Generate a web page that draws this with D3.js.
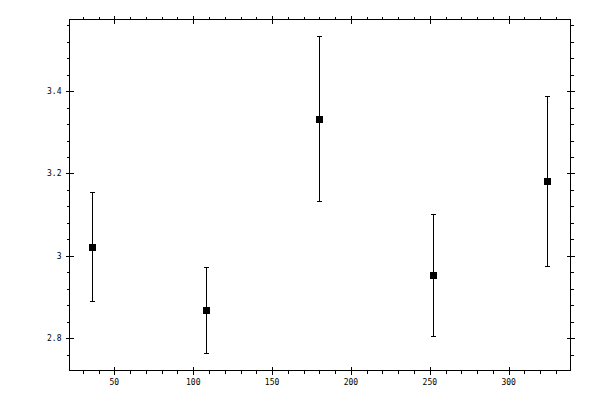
<!DOCTYPE html>
<html><head><meta charset="utf-8">
<script src="https://cdn.jsdelivr.net/npm/d3@7"></script>
<style>body{margin:0;background:#fff}svg{display:block}</style>
</head><body>
<script>
const xValues = [36, 108, 180, 252, 324];
const yValues = [3.022, 2.869, 3.333, 2.954, 3.182];
const yErrors = [0.132, 0.105, 0.201, 0.148, 0.206];
const xMajorTicks = [50, 100, 150, 200, 250, 300];
const yMajorTicks = [2.8, 3.0, 3.2, 3.4];
const xTickLabels = ["50", "100", "150", "200", "250", "300"];
const yTickLabels = ["2.8", "3", "3.2", "3.4"];

const W = 600, H = 400;
const L = 69.5, R = 570.5, T = 19.5, B = 370.5;
const svg = d3.select("body").append("svg").attr("width", W).attr("height", H);

const x = d3.scaleLinear().domain([21.55, 339.2]).range([L, R]);
const y = d3.scaleLinear().domain([2.7214, 3.574]).range([B, T]);

const xMinor = d3.range(30, 339, 10).filter(v => !xMajorTicks.includes(v));
const yMinor = d3.range(2.72, 3.58, 0.04).map(v => +v.toFixed(2)).filter(v => v >= 2.7214 && v <= 3.574 && !yMajorTicks.some(m => Math.abs(m - v) < 1e-6));

const g = svg.append("g").attr("shape-rendering", "crispEdges").attr("stroke", "#000").attr("stroke-width", 1);

// frame
g.append("rect").attr("x", L).attr("y", T).attr("width", R - L).attr("height", B - T).attr("fill", "none");

// x ticks (bottom and top)
[[B, 1], [T, -1]].forEach(([yy, dir]) => {
  g.selectAll(null).data(xMinor).enter().append("line")
    .attr("x1", d => Math.round(x(d)) + 0.5).attr("x2", d => Math.round(x(d)) + 0.5)
    .attr("y1", yy).attr("y2", yy + dir * 3);
  g.selectAll(null).data(xMajorTicks).enter().append("line")
    .attr("x1", d => Math.round(x(d)) + 0.5).attr("x2", d => Math.round(x(d)) + 0.5)
    .attr("y1", yy - 4).attr("y2", yy + 4);
});
// y ticks (left and right)
[[L, -1], [R, 1]].forEach(([xx, dir]) => {
  g.selectAll(null).data(yMinor).enter().append("line")
    .attr("y1", d => Math.round(y(d)) + 0.5).attr("y2", d => Math.round(y(d)) + 0.5)
    .attr("x1", xx).attr("x2", xx + dir * 3);
  g.selectAll(null).data(yMajorTicks).enter().append("line")
    .attr("y1", d => Math.round(y(d)) + 0.5).attr("y2", d => Math.round(y(d)) + 0.5)
    .attr("x1", xx - 4).attr("x2", xx + 4);
});

// labels
const font = "'DejaVu Sans Mono', monospace";
svg.selectAll(null).data(xMajorTicks).enter().append("text")
  .attr("x", d => x(d)).attr("y", 385)
  .attr("text-anchor", "middle").attr("font-family", font).attr("font-size", 8).attr("fill", "#000")
  .text((d, i) => xTickLabels[i]);
svg.selectAll(null).data(yMajorTicks).enter().append("text")
  .attr("x", 61.5).attr("y", d => y(d) + 3)
  .attr("text-anchor", "end").attr("font-family", font).attr("font-size", 8).attr("fill", "#000")
  .text((d, i) => yTickLabels[i]);

// error bars
const data = xValues.map((v, i) => ({x: v, y: yValues[i], e: yErrors[i]}));
const eb = svg.append("g").attr("shape-rendering", "crispEdges").attr("stroke", "#000").attr("stroke-width", 1);
data.forEach(d => {
  const cx = Math.round(x(d.x)) + 0.5;
  const yt = Math.round(y(d.y + d.e)) + 0.5, yb = Math.round(y(d.y - d.e)) + 0.5;
  eb.append("line").attr("x1", cx).attr("x2", cx).attr("y1", yt).attr("y2", yb);
  eb.append("line").attr("x1", cx - 2.5).attr("x2", cx + 2.5).attr("y1", yt).attr("y2", yt);
  eb.append("line").attr("x1", cx - 2.5).attr("x2", cx + 2.5).attr("y1", yb).attr("y2", yb);
});
svg.append("g").selectAll("rect").data(data).enter().append("rect")
  .attr("shape-rendering", "crispEdges")
  .attr("x", d => Math.round(x(d.x)) - 3).attr("y", d => Math.round(y(d.y)) - 3)
  .attr("width", 7).attr("height", 7).attr("fill", "#000");
</script>
</body></html>
